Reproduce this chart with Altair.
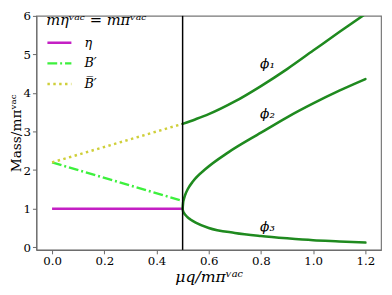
import altair as alt
import pandas as pd

# ---- data ----
mu_left = [0.0, 0.5]
eta_vals = [1.0, 1.0]
bp_vals = [2.2, 1.2]
bbar_vals = [2.2, 3.2]
series_names = ["η", "B′", "B̅′"]

phi1_mu = [0.5, 0.55, 0.6, 0.7, 0.8, 0.9, 1.0, 1.1, 1.2]
phi1_vals = [3.20, 3.32, 3.45, 3.78, 4.18, 4.62, 5.10, 5.58, 6.05]

phi2_mu = [0.5, 0.502, 0.505, 0.51, 0.52, 0.54, 0.59, 0.675, 0.8, 0.9, 1.0, 1.1, 1.2]
phi2_vals = [1.0, 1.16, 1.25, 1.36, 1.51, 1.71, 2.04, 2.46, 2.97, 3.37, 3.73, 4.06, 4.36]

phi3_mu = [0.5, 0.502, 0.505, 0.51, 0.52, 0.53, 0.55, 0.6, 0.7, 0.8, 0.9, 1.0, 1.1, 1.2]
phi3_vals = [1.0, 0.93, 0.89, 0.84, 0.77, 0.72, 0.64, 0.50, 0.37, 0.29, 0.23, 0.18, 0.15, 0.12]

label_mu = [0.825, 0.825, 0.825]
label_vals = [4.76, 3.44, 0.51]
label_text = ["ϕ₁", "ϕ₂", "ϕ₃"]

vline_mu = [0.5]
x_ticks = [0.0, 0.2, 0.4, 0.6, 0.8, 1.0, 1.2]
y_ticks = [0, 1, 2, 3, 4, 5, 6]

# ---- tables ----
rows = []
for name, vals in zip(series_names, [eta_vals, bp_vals, bbar_vals]):
    for m, v in zip(mu_left, vals):
        rows.append({"mu": m, "mass": v, "series": name})
left_df = pd.DataFrame(rows)

phi_rows = []
for name, mus, vals in [("phi1", phi1_mu, phi1_vals), ("phi2", phi2_mu, phi2_vals), ("phi3", phi3_mu, phi3_vals)]:
    for i, (m, v) in enumerate(zip(mus, vals)):
        phi_rows.append({"mu": m, "mass": v, "branch": name, "i": i})
phi_df = pd.DataFrame(phi_rows)

lab_df = pd.DataFrame({"mu": label_mu, "mass": label_vals, "text": label_text})
vl_df = pd.DataFrame({"mu": vline_mu})

SERIF = "DejaVu Serif"

xscale = alt.Scale(domain=[-0.06, 1.26], nice=False, zero=False)
yscale = alt.Scale(domain=[-0.07, 6.0], nice=False, zero=False)

xax = alt.Axis(values=x_ticks, tickCount=20, format=".1f", title="μq/mπᵛᵃᶜ", grid=False,
               titleFont=SERIF, titleFontSize=16, titleFontWeight="normal",
               titleFontStyle="italic", titlePadding=2, labelOverlap=False)
yax = alt.Axis(values=y_ticks, tickCount=20, format="d", title="Mass/mπᵛᵃᶜ", grid=False,
               titleFont=SERIF, titleFontSize=14, titleFontWeight="normal",
               titlePadding=0, labelOverlap=False)

x_enc = alt.X("mu:Q", scale=xscale, axis=xax)
y_enc = alt.Y("mass:Q", scale=yscale, axis=yax)

leg_title = "mηᵛᵃᶜ = mπᵛᵃᶜ"


def make_legend():
    return alt.Legend(title=leg_title, orient="none", legendX=10, legendY=-3,
                      titleAnchor="start", titleAlign="left",
                      symbolType="stroke", symbolSize=600, symbolStrokeWidth=2.5,
                      labelFont=SERIF, labelFontSize=13, labelFontStyle="italic",
                      labelColor="black",
                      titleFont=SERIF, titleFontSize=15, titleFontStyle="italic",
                      titleFontWeight="normal", titleColor="black",
                      titlePadding=2, rowPadding=0,
                      labelOffset=12, padding=0)


left = alt.Chart(left_df).mark_line(strokeWidth=2.5, clip=True).encode(
    x=x_enc,
    y=y_enc,
    color=alt.Color("series:N",
                    scale=alt.Scale(domain=series_names, range=["#c41fc4", "#3df03d", "#cfcf3a"]),
                    legend=make_legend()),
    strokeDash=alt.StrokeDash("series:N",
                              scale=alt.Scale(domain=series_names,
                                              range=[[1, 0], [10, 3, 2, 3], [2.5, 3.5]]),
                              legend=make_legend()),
)

phi = alt.Chart(phi_df).mark_line(strokeWidth=2.6, color="#1f8a1f", clip=True,
                                  interpolate="monotone", strokeCap="round").encode(
    x=alt.X("mu:Q", scale=xscale),
    y=alt.Y("mass:Q", scale=yscale),
    detail="branch:N",
    order="i:Q",
)

labels = alt.Chart(lab_df).mark_text(font=SERIF, fontSize=14, fontStyle="italic",
                                     color="black").encode(
    x=alt.X("mu:Q", scale=xscale),
    y=alt.Y("mass:Q", scale=yscale),
    text="text:N",
)

vline = alt.Chart(vl_df).mark_rule(color="black", strokeWidth=1.5).encode(
    x=alt.X("mu:Q", scale=xscale),
)

chart = alt.layer(left, phi, labels, vline).properties(
    width=352, height=239,
    autosize=alt.AutoSizeParams(type="none"),
    padding={"left": 29, "top": 5, "right": 3, "bottom": 43},
).configure(font=SERIF).configure_view(stroke="#777", strokeWidth=1.2).configure_axis(
    labelFont=SERIF, labelFontSize=12, labelColor="black",
    domainColor="#666", tickColor="#666", tickSize=4, labelPadding=2,
    titleColor="black",
)

chart.save("out.html", embed_options={"renderer": "svg", "actions": False})
